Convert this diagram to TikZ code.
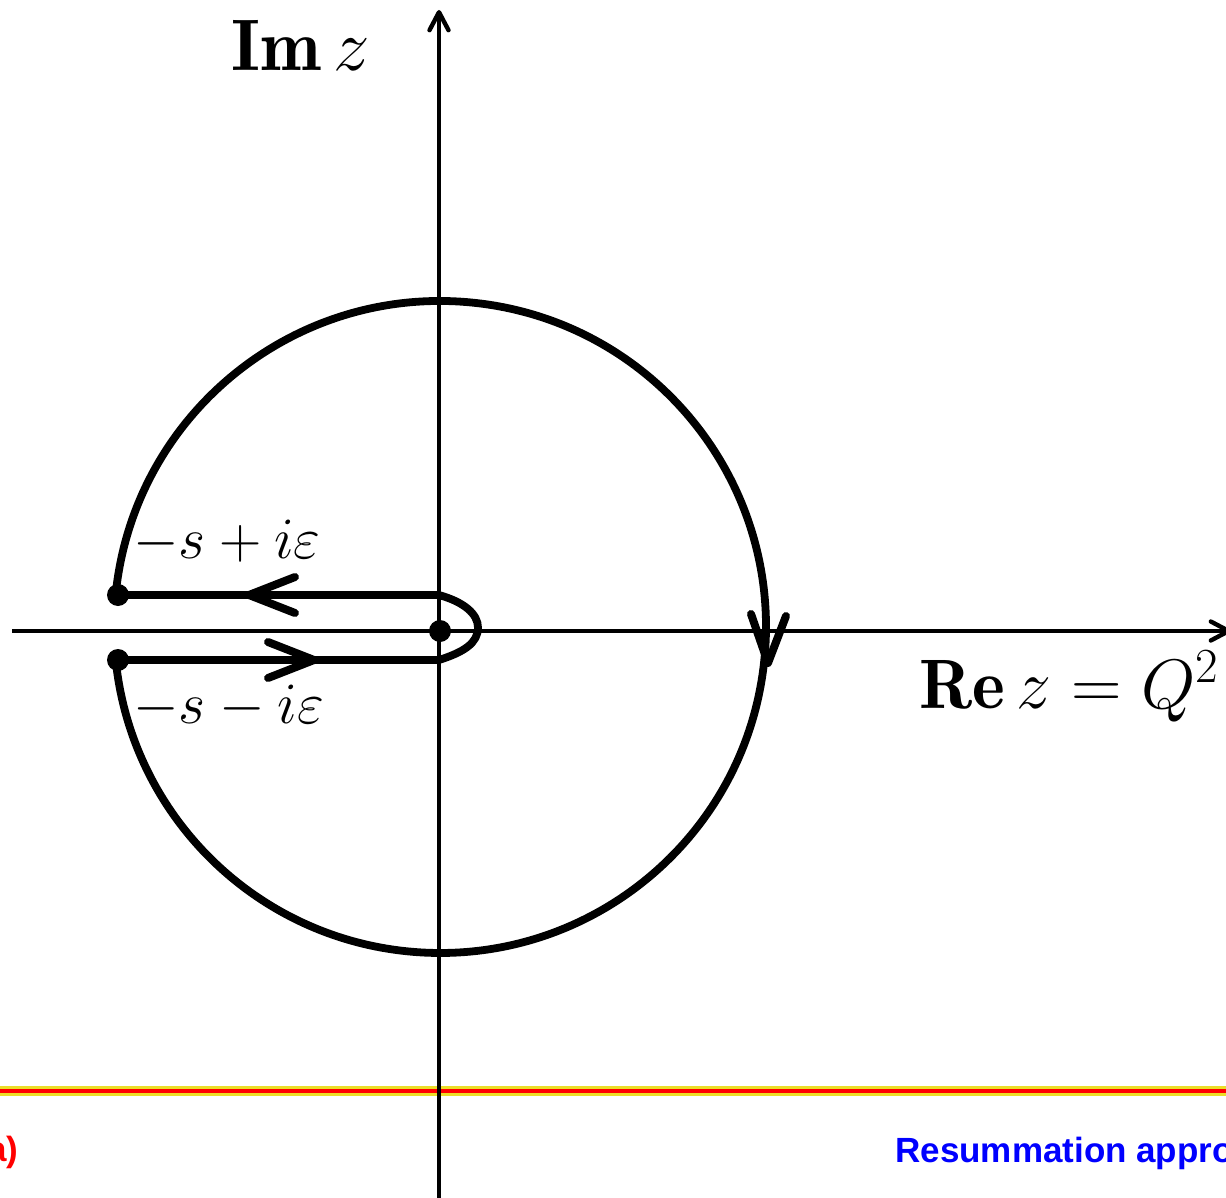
\RequirePackage{fix-cm}
\documentclass[tikz,border=0pt]{standalone}
\usepackage{fontspec}
\newfontfamily\slidesans{Liberation Sans}
\usetikzlibrary{arrows.meta}
\definecolor{baryellow}{RGB}{235,222,40}
\definecolor{slidered}{RGB}{255,0,0}
\definecolor{slideblue}{RGB}{0,0,255}
\begin{document}
\begin{tikzpicture}[x=0.5pt,y=0.5pt,
  axis/.style={line width=2.2pt,-{Straight Barb[length=9pt,width=9.5pt,line cap=round,line join=round]}},
  contour/.style={line width=3.9pt,line join=round},
  chev/.style={line width=4pt,line cap=round,line join=round},
  dot/.style={circle,fill=black,inner sep=0pt,minimum size=11pt},
  bigmath/.style={inner sep=0pt,font=\fontsize{36.5}{44}\selectfont},
  remath/.style={inner sep=0pt,font=\fontsize{35}{42}\selectfont},
  smallmath/.style={inner sep=0pt,font=\fontsize{29.3}{35}\selectfont},
  slidetxt/.style={inner sep=0pt,font=\slidesans\bfseries\fontsize{17.5}{21}\selectfont}]
\useasboundingbox (0,0) rectangle (1226,-1198);
\clip (0,0) rectangle (1226,-1198);

% slide decoration bar
\coordinate (barL) at (0,-1091);
\coordinate (barR) at (1226,-1091);
\draw[baryellow,line width=4.6pt] (barL) -- (barR);
\draw[slidered,line width=1.7pt] (barL) -- (barR);

% axes
\coordinate (xs) at (12,-631);
\coordinate (xe) at (1231,-631);
\coordinate (ys) at (439,-1205);
\coordinate (ye) at (439,-10);
\draw[axis] (xs) -- (xe);
\draw[axis] (ys) -- (ye);

% contour
\coordinate (ur) at (439,-595);
\coordinate (ul) at (115.6,-595);
\coordinate (ll) at (115.7,-660);
\coordinate (lr) at (439,-660);
\coordinate (tipR) at (478,-627.5);
\draw[contour] (ur) -- (ul)
  arc[start angle=174.37,end angle=-174.2,radius=326]
  -- (lr) .. controls (464,-652) and (478,-643) .. (tipR)
  .. controls (478,-614) and (464,-602) .. (ur) -- cycle;

% direction chevrons
\coordinate (a1) at (295,-577);
\coordinate (t1) at (249,-595);
\coordinate (b1) at (295,-613);
\draw[chev] (a1) -- (t1) -- (b1);
\coordinate (a2) at (268,-642);
\coordinate (t2) at (314,-660);
\coordinate (b2) at (268,-678);
\draw[chev] (a2) -- (t2) -- (b2);
\coordinate (a3) at (751,-614);
\coordinate (t3) at (768,-663);
\coordinate (b3) at (786,-616);
\draw[chev] (a3) -- (t3) -- (b3);

% dots
\node[dot] (d1) at (118,-595) {};
\node[dot] (d2) at (118,-660) {};
\node[dot] (d0) at (440,-631) {};

% labels
\node[bigmath,anchor=base west] (imlab) at (231,-71) {$\mathbf{Im}\,z$};
\node[remath,anchor=base west] (relab) at (919,-708) {$\mathbf{Re}\,z=Q^2$};
\node[smallmath,anchor=base west] (uplab) at (133,-558) {$-s+i\varepsilon$};
\node[smallmath,anchor=base west] (lolab) at (133,-723) {$-s-i\varepsilon$};

% slide texts
\node[slidetxt,text=slidered,anchor=base east] (slA) at (19,-1161) {(a)};
\node[slidetxt,text=slideblue,anchor=base west] (slB) at (895,-1162) {Resummation approach};
\end{tikzpicture}
\end{document}
